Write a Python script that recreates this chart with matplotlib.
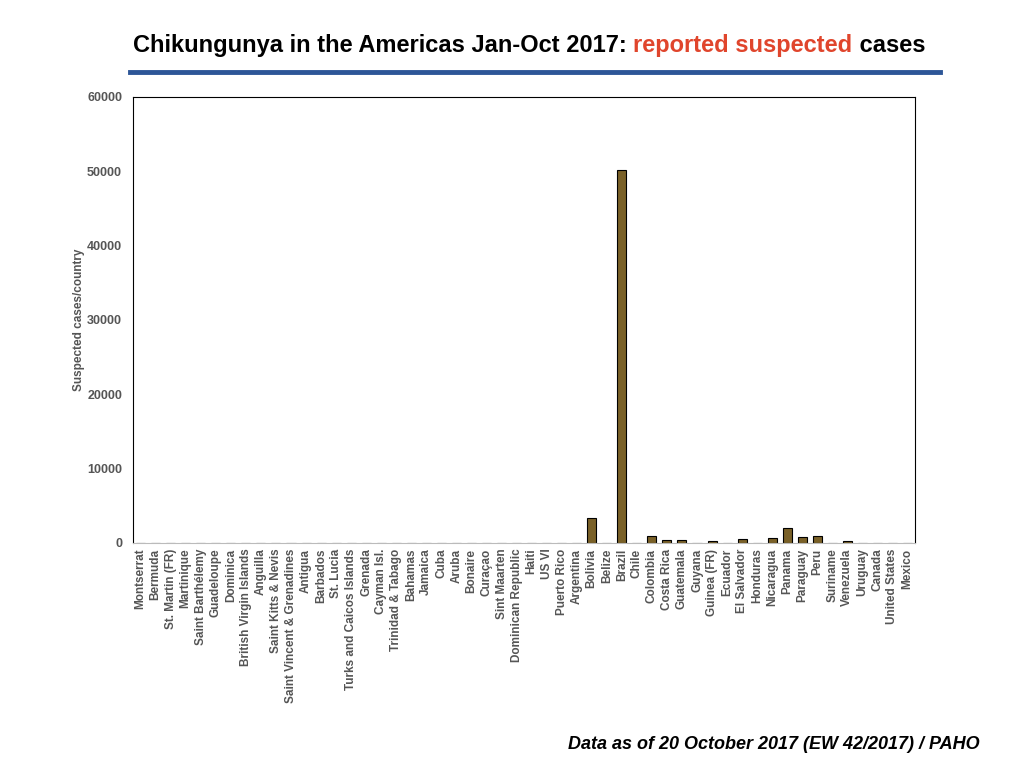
import matplotlib.pyplot as plt
import numpy as np

plt.rcParams['font.family'] = ['Liberation Sans', 'DejaVu Sans']

# Laender (x-Achse)
countries = ['Montserrat', 'Bermuda', 'St. Martin (FR)', 'Martinique', 'Saint Barthélemy',
             'Guadeloupe', 'Dominica', 'British Virgin Islands', 'Anguilla', 'Saint Kitts & Nevis',
             'Saint Vincent & Grenadines', 'Antigua', 'Barbados', 'St. Lucia',
             'Turks and Caicos Islands', 'Grenada', 'Cayman Isl.', 'Trinidad & Tabago', 'Bahamas',
             'Jamaica', 'Cuba', 'Aruba', 'Bonaire', 'Curaçao', 'Sint Maarten', 'Dominican Republic',
             'Haiti', 'US VI', 'Puerto Rico', 'Argentina', 'Bolivia', 'Belize', 'Brazil', 'Chile',
             'Colombia', 'Costa Rica', 'Guatemala', 'Guyana', 'Guinea (FR)', 'Ecuador', 'El Salvador',
             'Honduras', 'Nicaragua', 'Panama', 'Paraguay', 'Peru', 'Suriname', 'Venezuela',
             'Uruguay', 'Canada', 'United States', 'Mexico']

# Verdachtsfaelle pro Land
cases = [0, 0, 0, 0, 0, 0, 0, 0, 0, 0,
         0, 0, 0, 0, 0, 0, 0, 0, 0, 0,
         0, 0, 0, 0, 0, 0, 0, 0, 0, 0,
         3360, 0, 50200, 0, 980, 400, 400, 0, 270, 0,
         540, 0, 670, 2020, 810, 980, 0, 270, 0, 0,
         0, 0]

x_pos = np.arange(len(countries))

fig = plt.figure(figsize=(10.24, 7.68), dpi=100)
ax = fig.add_axes([0.130, 0.293, 0.7636, 0.5807])

ax.bar(x_pos, cases, width=0.6, color='#7a6128', edgecolor='black', linewidth=0.8)

ax.set_xlim(-0.5, len(countries) - 0.5)
ax.set_ylim(0, 60000)
ax.set_yticks(np.arange(0, 60001, 10000))
ax.set_xticks(x_pos)
ax.set_xticklabels(countries, rotation=90, fontsize=8.5, fontweight='bold', color='#555555')
for lab in ax.get_yticklabels():
    lab.set_fontsize(9)
    lab.set_fontweight('bold')
    lab.set_color('#555555')
ax.tick_params(axis='x', length=0, pad=4)
ax.tick_params(axis='y', length=0, pad=8)
ax.set_ylabel('Suspected cases/country', fontsize=8.5, fontweight='bold', color='#555555', labelpad=1)

for s in ['top', 'right', 'left']:
    ax.spines[s].set_color('black')
    ax.spines[s].set_linewidth(0.8)
ax.spines['bottom'].set_color('#bbbbbb')

# Titel
t1 = 'Chikungunya in the Americas Jan-Oct 2017: '
t2 = 'reported suspected'
t3 = ' cases'
kw = dict(fontsize=17, fontweight='bold', va='center')
txt = fig.text(0.130, 0.941, t1, color='black', **kw)
fig.canvas.draw()
bb = txt.get_window_extent()
txt2 = fig.text(bb.x1 / 1024, 0.941, t2, color='#e0452c', **kw)
bb2 = txt2.get_window_extent()
fig.text(bb2.x1 / 1024, 0.941, t3, color='black', **kw)

# blaue Linie
fig.add_artist(plt.Line2D([0.127, 0.918], [0.906, 0.906], color='#2d5697', linewidth=3.5))

fig.text(0.957, 0.031, 'Data as of 20 October 2017 (EW 42/2017) / PAHO', fontsize=13,
         fontweight='bold', style='italic', ha='right', va='center')

plt.savefig('out.png', dpi=100)
